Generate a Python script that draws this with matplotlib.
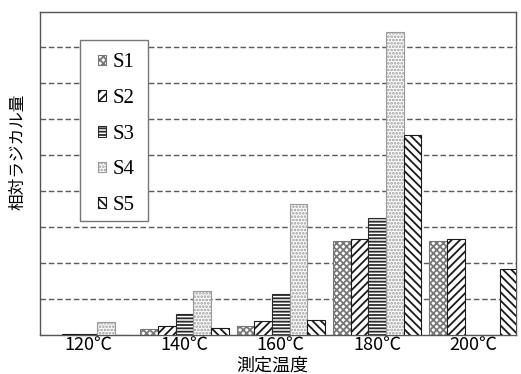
import numpy as np
import matplotlib
matplotlib.use('Agg')
import matplotlib.pyplot as plt
from matplotlib.patches import Rectangle

plt.rcParams['font.family'] = ['Noto Sans CJK JP', 'DejaVu Sans']
plt.rcParams['hatch.linewidth'] = 1.3

# 測定温度ごとの相対ラジカル量
temps = ['120℃', '140℃', '160℃', '180℃', '200℃']
series = ['S1', 'S2', 'S3', 'S4', 'S5']
s1 = [0.00, 0.17, 0.25, 2.61, 2.61]
s2 = [0.03, 0.25, 0.39, 2.66, 2.66]
s3 = [0.04, 0.58, 1.13, 3.25, 0.00]
s4 = [0.36, 1.22, 3.64, 8.42, 0.00]
s5 = [0.00, 0.20, 0.42, 5.56, 1.84]
values = [s1, s2, s3, s4, s5]

hatches = ['xxxxx', '////', '-----', '.....', '\\\\\\\\']
edges = ['#777777', '#1a1a1a', '#2a2a2a', '#9a9a9a', '#1a1a1a']

fig = plt.figure(figsize=(5.21, 3.74), dpi=100)
ax = fig.add_axes([0.0768, 0.1043, 0.9132, 0.8637])

x = np.arange(len(temps))
w = 0.183
for i, (name, vals) in enumerate(zip(series, values)):
    ax.bar(x + (i - 2) * w, vals, w, color='white', edgecolor=edges[i],
           hatch=hatches[i], linewidth=0.8, label=name, zorder=3)

ax.set_xlim(-0.50, 4.44)
ax.set_ylim(0, 8.97)
ax.set_yticks(range(1, 9))
ax.set_yticklabels([])
ax.tick_params(axis='y', length=0)
ax.tick_params(axis='x', length=0, labelsize=13, pad=1)
ax.set_xticks(x)
ax.set_xticklabels(temps)
ax.yaxis.grid(True, linestyle=(0, (4, 2)), color='#5a5a5a', linewidth=1.0, zorder=0)
for sp in ax.spines.values():
    sp.set_color('#555555')
    sp.set_linewidth(1.0)

fig.text(18 / 521, 1 - 152 / 374, '相対ラジカル量', rotation=90, fontsize=12,
         ha='center', va='center')
fig.text(272 / 521, 1 - 366 / 374, '測定温度', fontsize=13, ha='center', va='center')

# 凡例の枠（余白が左右で広いので手で描く）
box = Rectangle((80 / 521, 1 - 221 / 374), 68 / 521, 181 / 374, transform=fig.transFigure,
                facecolor='white', edgecolor='#777777', linewidth=1.0, zorder=4)
ax.add_patch(box)
box.set_clip_on(False)

leg = ax.legend(loc='upper left', bbox_to_anchor=(0.1218, 0.8715), borderaxespad=0,
                prop={'family': 'Liberation Serif', 'size': 15}, frameon=False,
                handlelength=0.4, handleheight=0.4, handletextpad=0.3, labelspacing=0.80,
                borderpad=0)
leg.set_zorder(5)

fig.savefig('out.png', dpi=100)
